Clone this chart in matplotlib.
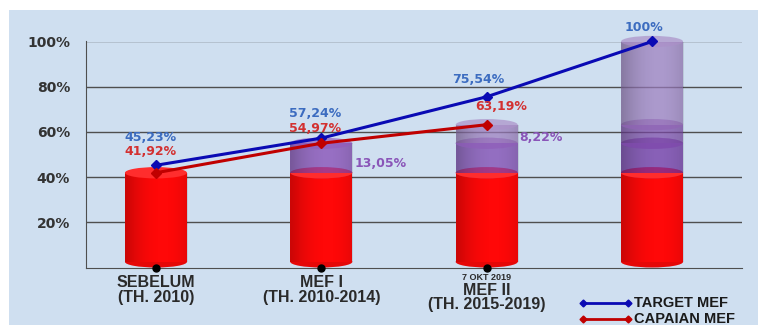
import matplotlib.pyplot as plt
import numpy as np
from matplotlib.patches import Rectangle, Ellipse
from matplotlib.lines import Line2D

# Data
categories = ["SEBELUM\n(TH. 2010)", "MEF I\n(TH. 2010-2014)", "MEF II\n(TH. 2015-2019)", ""]
target = [45.23, 57.24, 75.54, 100]
capaian = [41.92, 54.97, 63.19]
target_labels = ["45,23%", "57,24%", "75,54%", "100%"]
capaian_labels = ["41,92%", "54,97%", "63,19%"]
# stacked cylinder segments per category
segments = [
    [41.92],
    [41.92, 13.05],
    [41.92, 13.05, 8.22],
    [41.92, 13.05, 8.22, 36.81],
]
increment_labels = {1: "13,05%", 2: "8,22%"}
yticks = [20, 40, 60, 80, 100]

BG = "#cfdff0"
RED = "#ff0808"
seg_colors = [
    [RED],
    [RED, "#8040b0"],
    [RED, "#7a3fae", "#9c7cbe"],
    [RED, "#6a2aa0", "#7c49a8", "#9c7cbe"],
]
CAT_FONT = "Liberation Sans"

fig = plt.figure(figsize=(7.58, 3.27), dpi=100)
fig.patch.set_facecolor("white")
fig.add_artist(Rectangle((9 / 758, 2 / 327), 1, 1 - 12 / 327,
                         transform=fig.transFigure, facecolor=BG,
                         edgecolor="none", zorder=-5))

ax = fig.add_axes([86 / 758, 1 - 267.5 / 327, 656 / 758, 226 / 327])
ax.set_facecolor("none")

for y in yticks:
    ax.axhline(y, color="#4f4f4f", lw=1, zorder=1)
for s in ["top", "right"]:
    ax.spines[s].set_visible(False)
ax.spines["left"].set_color("#4f4f4f")
ax.spines["bottom"].set_color("#4f4f4f")
ax.set_yticks(yticks)
ax.set_yticklabels([f"{v}%" for v in yticks], fontsize=10, fontweight="bold",
                   color="#333333", family="DejaVu Sans")
ax.tick_params(axis="y", length=0, pad=11.5)
ax.set_xticks([])

# cylinders
w = 0.375
eh = 5.0
bottom0 = 2.5


def shade(hexcol, f):
    c = np.array(plt.matplotlib.colors.to_rgb(hexcol))
    if f > 0:
        return tuple(c + (1 - c) * f)
    return tuple(c * (1 + f))


for i, segs in enumerate(segments):
    bottom = bottom0
    cum = 0
    for j, h in enumerate(segs):
        col = seg_colors[i][j]
        a = 1.0 if j == 0 else 0.7
        cum += h
        top = cum
        rect = Rectangle((i - w / 2, bottom), w, top - bottom, facecolor=col,
                         edgecolor="none", alpha=a, zorder=2 + j * 0.1)
        ax.add_patch(rect)
        # horizontal shading across the cylinder
        grad = np.linspace(0, 1, 50)
        prof = np.clip(1 - 3 * (grad - 0.6) ** 2, 0, 1)
        img = np.zeros((1, 50, 4))
        img[..., 3] = (1 - prof) * 0.2
        im = ax.imshow(img, extent=(i - w / 2, i + w / 2, bottom, top),
                       aspect="auto", zorder=2.01 + j * 0.1,
                       interpolation="bilinear")
        im.set_clip_path(rect)
        bcol = shade(col, -0.1) if j == 0 else col
        ax.add_patch(Ellipse((i, bottom), w, eh, facecolor=bcol,
                             edgecolor="none", alpha=a if j == 0 else 0.35,
                             zorder=1.9 + j * 0.1))
        ax.add_patch(Ellipse((i, top), w, eh, facecolor=shade(col, 0.15),
                             edgecolor="none", alpha=a, zorder=2.05 + j * 0.1,
                             clip_on=False))
        bottom = top

ax.set_xlim(-0.423, 3.544)
ax.set_ylim(0, 100)

# axis dots
ax.plot([0, 1, 2], [0, 0, 0], "o", color="black", ms=5, clip_on=False, zorder=5)

# lines
ax.plot(range(len(target)), target, color="#0a0ab4", lw=2.2, marker="D", ms=5,
        zorder=6, clip_on=False)
ax.plot(range(len(capaian)), capaian, color="#c00000", lw=2.2, marker="D", ms=5,
        zorder=6, clip_on=False)

lab_kw = dict(fontsize=9, fontweight="bold", family="DejaVu Sans",
              ha="center", va="center", clip_on=False, zorder=7)
t_off = [(-0.03, 12.5), (-0.04, 11), (-0.05, 7.5), (-0.05, 6)]
for i, (v, s) in enumerate(zip(target, target_labels)):
    ax.text(i + t_off[i][0], v + t_off[i][1], s, color="#3c6cc0", **lab_kw)
c_off = [(-0.03, 9.5), (-0.04, 6.7), (0.09, 8)]
for i, (v, s) in enumerate(zip(capaian, capaian_labels)):
    ax.text(i + c_off[i][0], v + c_off[i][1], s, color="#d33030", **lab_kw)
inc_pos = {1: (1.36, 46.2), 2: (2.33, 57.7)}
for i, s in increment_labels.items():
    ax.text(inc_pos[i][0], inc_pos[i][1], s, color="#8a55b8", **lab_kw)

# category labels
cat_top = [-3.4, -3.4, -6.9, -3.4]
for i, c in enumerate(categories):
    if c:
        ax.text(i, cat_top[i], c, ha="center", va="top", fontsize=11.5,
                fontweight="bold", family=CAT_FONT, color="#2a2a2a",
                linespacing=0.95, clip_on=False)
ax.text(2, -2.3, "7 OKT 2019", ha="center", va="top", fontsize=6.5,
        fontweight="bold", family=CAT_FONT, color="#2a2a2a", clip_on=False)

# legend
leg_items = [("TARGET MEF", "#0a0ab4", 303), ("CAPAIAN MEF", "#c00000", 319)]
for name, col, yp in leg_items:
    fy = 1 - yp / 327
    fig.add_artist(Line2D([583 / 758, 628 / 758], [fy, fy], color=col, lw=2,
                          marker="D", ms=3.5, transform=fig.transFigure))
    fig.text(634 / 758, fy, name, va="center", ha="left", fontsize=10.5,
             fontweight="bold", family=CAT_FONT, color="#1a1a1a")

fig.savefig("out.png", dpi=100)
